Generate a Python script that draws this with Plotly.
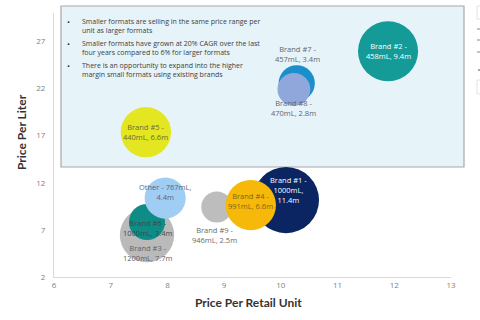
import plotly.graph_objects as go

# ---- data (listed in drawing order, back to front) ----
brands = ["Brand #3", "Brand #6", "Other", "Brand #1", "Brand #9",
          "Brand #4", "Brand #2", "Brand #5", "Brand #7", "Brand #8"]
pack_sizes = ["1200mL", "1000mL", "767mL", "1000mL", "946mL",
              "991mL", "458mL", "440mL", "457mL", "470mL"]
volumes_m = [7.7, 3.4, 4.4, 11.4, 2.5, 6.6, 9.4, 6.6, 3.4, 2.8]
price_per_unit = [7.64, 7.64, 7.96, 10.09, 8.87, 9.47, 11.89, 7.62, 10.28, 10.23]
price_per_liter = [6.45, 7.83, 10.37, 10.16, 9.42, 9.63, 25.94, 17.36, 22.55, 21.9]

x_ticks = [6, 7, 8, 9, 10, 11, 12, 13]
y_ticks = [2, 7, 12, 17, 22, 27]

bullets = [
    "Smaller formats are selling in the same price range per<br>unit as larger formats",
    "Smaller formats have grown at 20% CAGR over the last<br>four years compared to 6% for larger formats",
    "There is an opportunity to expand into the higher<br>margin small formats using existing brands",
]

# ---- styling ----
colors = ["#bababa", "#0f8c86", "#9fcdf4", "#0b2462", "#bdbdbd",
          "#f6b90a", "#149a97", "#e3e621", "#1a8fcc", "#8fa7da"]
label_colors = ["#5f5f5f", "#3f4a48", "#5f6670", "#ffffff", "#6a6a6a",
                "#7d6418", "#ffffff", "#6a6a3c", "#5f6670", "#5f6670"]
label_shift = [(0, -18), (0, -6), (0, 6), (3, 10), (-2, -28),
               (0, 4), (0, 0), (0, 0), (1, 29), (0, -19)]

FONT = "Open Sans"

fig = go.Figure()
fig.add_trace(go.Scatter(
    x=price_per_unit, y=price_per_liter, mode="markers",
    marker=dict(size=volumes_m, sizemode="area", sizeref=1 / 192,
                color=colors, opacity=1, line=dict(width=0)),
    hoverinfo="skip", showlegend=False,
))

annotations = []
for i, b in enumerate(brands):
    if b == "Brand #1":
        txt = f"{b} -<br>{pack_sizes[i]},<br>{volumes_m[i]}m"
    elif b == "Other":
        txt = f"{b} - {pack_sizes[i]},<br>{volumes_m[i]}m"
    else:
        txt = f"{b} -<br>{pack_sizes[i]}, {volumes_m[i]}m"
    annotations.append(dict(
        x=price_per_unit[i], y=price_per_liter[i], xref="x", yref="y",
        text=txt, showarrow=False, xshift=label_shift[i][0], yshift=label_shift[i][1],
        font=dict(family=FONT, size=7.5, color=label_colors[i]),
        align="center", xanchor="center", yanchor="middle",
    ))

# plot area pixels: x 54..451, y 13..277
def px(xp):
    return (xp - 54) / 397

def py(yp):
    return (277 - yp) / 264

bullet_text_y = [26, 47.5, 70]
bullet_dot_y = [21.5, 43, 65.5]
for t, yc, yd in zip(bullets, bullet_text_y, bullet_dot_y):
    annotations.append(dict(x=px(80), y=py(yc), xref="paper", yref="paper", text=t,
                            showarrow=False, xanchor="left", yanchor="middle", align="left",
                            font=dict(family=FONT, size=7, color="#404040")))
    annotations.append(dict(x=px(68), y=py(yd), xref="paper", yref="paper", text="•",
                            showarrow=False, xanchor="center", yanchor="middle",
                            font=dict(family=FONT, size=8, color="#303030")))

annotations.append(dict(x=px(21), y=py(132), xref="paper", yref="paper",
                        text="<b>Price Per Liter</b>", textangle=-90, showarrow=False,
                        xanchor="center", yanchor="middle",
                        font=dict(family="Lato", size=12, color="#333333")))
annotations.append(dict(x=px(248), y=py(302), xref="paper", yref="paper",
                        text="<b>Price Per Retail Unit</b>", showarrow=False,
                        xanchor="center", yanchor="middle",
                        font=dict(family="Lato", size=12, color="#333333")))

shapes = [
    dict(type="rect", xref="paper", yref="paper", x0=px(61), x1=px(464),
         y0=py(167), y1=py(6), fillcolor="#e6f3f9",
         line=dict(color="#a8a8a8", width=1.2), layer="below"),
    # partial box cut off at the right edge
    dict(type="rect", xref="paper", yref="paper", x0=px(477), x1=px(484),
         y0=py(19), y1=py(6), fillcolor="#ffffff",
         line=dict(color="#e2e2e2", width=1), layer="above"),
    dict(type="rect", xref="paper", yref="paper", x0=px(477), x1=px(484),
         y0=py(94), y1=py(80), fillcolor="#ffffff",
         line=dict(color="#e2e2e2", width=1), layer="above"),
]
for yy in [29, 40, 52]:
    shapes.append(dict(type="line", xref="paper", yref="paper", x0=px(477), x1=px(480),
                       y0=py(yy), y1=py(yy), line=dict(color="#b0b0b0", width=1.5)))
shapes.append(dict(type="line", xref="paper", yref="paper", x0=px(478), x1=px(480),
                   y0=py(70), y1=py(70), line=dict(color="#888888", width=1.5)))

fig.update_layout(
    width=480, height=320,
    margin=dict(l=54, r=29, t=13, b=43, autoexpand=False),
    paper_bgcolor="white", plot_bgcolor="rgba(0,0,0,0)",
    showlegend=False,
    annotations=annotations, shapes=shapes,
    xaxis=dict(range=[6, 13], tickvals=x_ticks, showgrid=False, zeroline=False,
               showline=True, linecolor="#d9d9d9", linewidth=1, ticks="",
               tickfont=dict(family=FONT, size=8, color="#7f7f7f")),
    yaxis=dict(range=[2, 30], tickvals=y_ticks, showgrid=False, zeroline=False,
               showline=True, linecolor="#d9d9d9", linewidth=1, ticks="",
               ticklabelstandoff=6,
               tickfont=dict(family=FONT, size=8, color="#7f7f7f")),
)

fig.write_html("out.html")
